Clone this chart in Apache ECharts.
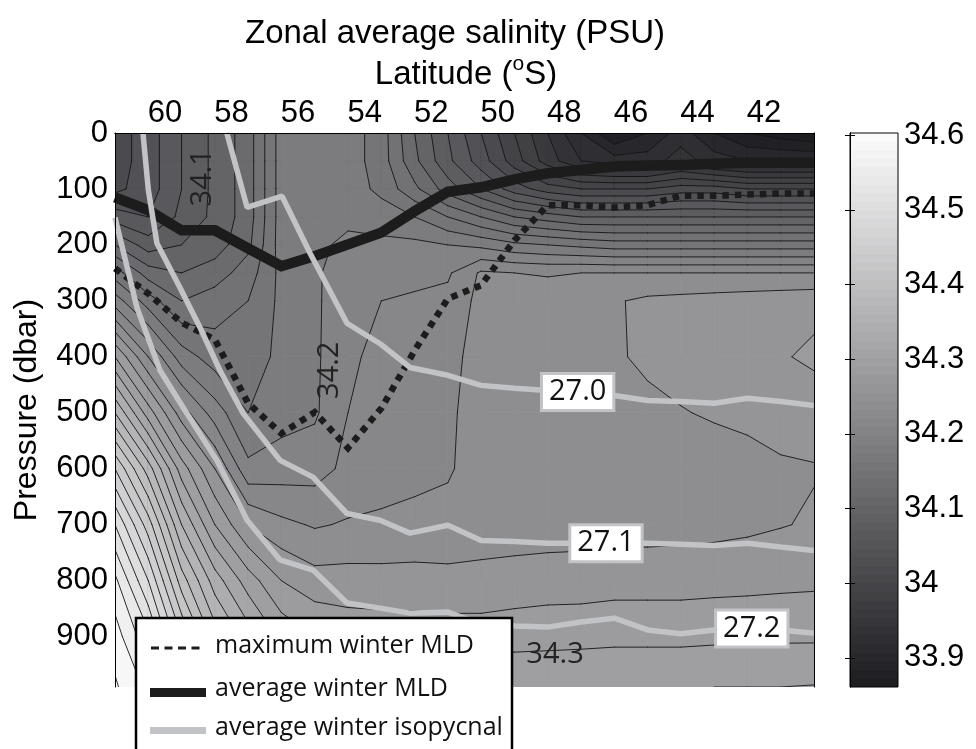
<!DOCTYPE html>
<html>
<head>
<meta charset="utf-8">
<script src="https://cdn.jsdelivr.net/npm/echarts@6/dist/echarts.min.js"></script>
<style>
  html, body { margin: 0; padding: 0; background: #fff; }
  #chart { width: 976px; height: 749px; }
</style>
</head>
<body>
<div id="chart"></div>
<script>
// ---- Section grid -------------------------------------------------------
const latitudes = [61.5, 60.5, 59.5, 58.5, 57.5, 56.5, 55.5, 54.5, 53.5, 52.5, 51.5,
                   50.5, 49.5, 48.5, 47.5, 46.5, 45.5, 44.5, 43.5, 42.5, 41.5, 40.5];
const pressures = [0, 50, 100, 150, 200, 250, 300, 400, 500, 600, 700, 800, 900, 990];

// Zonal mean salinity (PSU): one column per latitude, surface to bottom
const salinity = [
  [34.03, 34.03, 34.035, 34.07, 34.12, 34.17, 34.21, 34.30, 34.38, 34.46, 34.52, 34.565, 34.59, 34.603],
  [34.05, 34.05, 34.05, 34.06, 34.09, 34.13, 34.17, 34.24, 34.31, 34.39, 34.45, 34.50, 34.545, 34.575],
  [34.08, 34.08, 34.08, 34.085, 34.10, 34.12, 34.14, 34.19, 34.25, 34.31, 34.36, 34.41, 34.46, 34.50],
  [34.105, 34.105, 34.105, 34.105, 34.11, 34.13, 34.15, 34.17, 34.21, 34.26, 34.30, 34.35, 34.39, 34.43],
  [34.13, 34.13, 34.13, 34.13, 34.135, 34.15, 34.16, 34.17, 34.18, 34.205, 34.26, 34.31, 34.35, 34.38],
  [34.19, 34.19, 34.19, 34.19, 34.19, 34.186, 34.185, 34.185, 34.192, 34.21, 34.245, 34.28, 34.315, 34.345],
  [34.195, 34.195, 34.195, 34.195, 34.195, 34.196, 34.196, 34.196, 34.197, 34.212, 34.238, 34.268, 34.30, 34.328],
  [34.19, 34.19, 34.19, 34.195, 34.205, 34.214, 34.215, 34.218, 34.22, 34.225, 34.242, 34.268, 34.293, 34.322],
  [34.17, 34.17, 34.175, 34.19, 34.205, 34.215, 34.22, 34.223, 34.226, 34.23, 34.244, 34.267, 34.292, 34.319],
  [34.12, 34.125, 34.145, 34.18, 34.205, 34.216, 34.222, 34.227, 34.231, 34.234, 34.246, 34.267, 34.291, 34.318],
  [34.08, 34.085, 34.11, 34.16, 34.20, 34.217, 34.226, 34.232, 34.236, 34.238, 34.246, 34.266, 34.29, 34.317],
  [34.04, 34.05, 34.08, 34.14, 34.195, 34.243, 34.246, 34.25, 34.25, 34.248, 34.25, 34.266, 34.29, 34.317],
  [34.00, 34.01, 34.05, 34.12, 34.185, 34.24, 34.25, 34.252, 34.25, 34.248, 34.25, 34.268, 34.292, 34.318],
  [33.96, 33.97, 34.03, 34.11, 34.18, 34.238, 34.252, 34.254, 34.252, 34.249, 34.25, 34.27, 34.293, 34.318],
  [33.92, 33.94, 34.02, 34.10, 34.175, 34.24, 34.255, 34.256, 34.253, 34.249, 34.251, 34.27, 34.294, 34.318],
  [33.88, 33.93, 34.02, 34.10, 34.17, 34.24, 34.258, 34.258, 34.254, 34.248, 34.252, 34.272, 34.295, 34.319],
  [33.90, 33.93, 34.02, 34.10, 34.17, 34.24, 34.264, 34.263, 34.256, 34.248, 34.252, 34.272, 34.295, 34.319],
  [33.93, 33.95, 34.03, 34.10, 34.17, 34.24, 34.266, 34.267, 34.259, 34.25, 34.253, 34.272, 34.295, 34.319],
  [33.90, 33.93, 34.03, 34.10, 34.17, 34.24, 34.268, 34.27, 34.262, 34.251, 34.254, 34.273, 34.296, 34.32],
  [33.88, 33.92, 34.02, 34.10, 34.17, 34.24, 34.27, 34.274, 34.264, 34.254, 34.256, 34.274, 34.296, 34.32],
  [33.87, 33.92, 34.02, 34.10, 34.17, 34.24, 34.272, 34.278, 34.266, 34.258, 34.259, 34.275, 34.297, 34.32],
  [33.861, 33.92, 34.02, 34.10, 34.17, 34.24, 34.274, 34.284, 34.268, 34.259, 34.262, 34.276, 34.297, 34.321]
];

// Winter mixed-layer depth (dbar) at the grid latitudes
const avgMldDepth = [115, 138, 174, 174, 206, 238, 220, 199, 178, 140, 105, 97, 83, 72, 66, 60, 58, 57, 55, 53, 53, 53];
const maxMldDepth = [242, 287, 339, 369, 483, 537, 499, 563, 492, 389, 296, 272, 192, 129, 129, 133, 129, 112, 112, 110, 108, 108];

// Average winter isopycnals (latitude, pressure)
const iso270Lat = [58.14, 57.53, 56.48, 55.64, 54.53, 53.5, 52.64, 51.5, 50.5, 49.5, 48.5, 47.5, 46.5, 45.5, 44.5, 43.5, 42.5, 41.5, 40.5];
const iso270P   = [0, 133, 113, 215, 340, 378, 419, 433, 451, 456, 460, 463, 469, 478, 480, 483, 474, 480, 487];
const iso271Lat = [60.66, 60.5, 60.24, 59.55, 58.95, 58.35, 57.65, 56.54, 55.55, 54.53, 53.54, 52.64, 51.5, 50.5, 49.5, 48.5, 47.5, 46.5, 45.5, 44.5, 43.5, 42.5, 41.5, 40.5];
const iso271P   = [0, 101, 197, 276, 347, 424, 501, 585, 615, 680, 692, 715, 701, 728, 730, 733, 733, 733, 733, 735, 737, 733, 740, 746];
const iso272Lat = [61.5, 60.84, 60.15, 59.49, 58.44, 57.53, 56.54, 55.55, 54.53, 53.54, 52.64, 51.5, 50.5, 49.5, 48.5, 47.5, 46.5, 45.5, 44.5, 43.5, 42.5, 41.5, 40.5];
const iso272P   = [151, 312, 424, 487, 585, 692, 763, 781, 840, 849, 858, 856, 878, 881, 883, 874, 867, 888, 895, 888, 885, 888, 894];

// Isopycnal labels: density value and the latitude where the label sits
const isoLabelText = ['27.0', '27.1', '27.2'];
const isoLabelLat  = [47.6, 46.75, 42.37];

// Inline salinity contour labels
const contourLabelText = ['34.1', '34.2', '34.3'];
const contourLabelLat  = [58.85, 55.04, 48.28];
const contourLabelP    = [80, 424, 933];
const contourLabelVertical = [true, true, false];

// Tick labels
const latTicks = [60, 58, 56, 54, 52, 50, 48, 46, 44, 42];
const pressureTicks = [0, 100, 200, 300, 400, 500, 600, 700, 800, 900];
const colorTicks = [33.9, 34.0, 34.1, 34.2, 34.3, 34.4, 34.5, 34.6];

// ---- Contour levels and grey colour map --------------------------------
const LEVEL_STEP = 0.02;
const levels = [];
for (let k = 0; ; k++) {
  const v = +(33.86 + LEVEL_STEP * k).toFixed(2);
  if (v > 34.6 + 1e-9) break;
  levels.push(v);
}
const allValues = salinity.flat();
const cmin = Math.min(...allValues);
const cmax = Math.max(...allValues);
const CMAP_N = 64;
const DARK = [30, 30, 34];
const LIGHT = [250, 250, 251];
function cmapColorByIndex(idx) {
  const g = idx / (CMAP_N - 1);
  const c = DARK.map((d, i) => Math.round(d + g * (LIGHT[i] - d)));
  return 'rgb(' + c.join(',') + ')';
}
function cmapColor(v) {
  const t = (v - cmin) / (cmax - cmin);
  const idx = Math.max(0, Math.min(CMAP_N - 1, Math.floor(t * CMAP_N)));
  return cmapColorByIndex(idx);
}

const GREY_LINE = '#c2c3c7';
const BLACK_LINE = '#1c1c1c';
const AXIS_FONT = 'Liberation Sans, Arial, sans-serif';
const LABEL_FONT = 'Open Sans, Noto Sans, sans-serif';

// ---- Helpers -------------------------------------------------------------
function cellCorners(j, i) {
  return [[j, i], [j + 1, i], [j + 1, i + 1], [j, i + 1]].map(([jj, ii]) => ({
    lat: latitudes[jj], p: pressures[ii], v: salinity[jj][ii]
  }));
}
function crossing(A, B, L) {
  const t = (L - A.v) / (B.v - A.v);
  return [A.lat + t * (B.lat - A.lat), A.p + t * (B.p - A.p)];
}
function regionAbove(pts, L) {
  const out = [];
  for (let m = 0; m < 4; m++) {
    const A = pts[m], B = pts[(m + 1) % 4];
    const ain = A.v >= L, bin = B.v >= L;
    if (ain) out.push([A.lat, A.p]);
    if (ain !== bin) out.push(crossing(A, B, L));
  }
  return out;
}
function lerpLine(lats, ps, lat) {
  for (let k = 0; k < lats.length - 1; k++) {
    const a = lats[k], b = lats[k + 1];
    if ((lat - a) * (lat - b) <= 0) {
      const t = (lat - a) / (b - a);
      return ps[k] + t * (ps[k + 1] - ps[k]);
    }
  }
  return ps[ps.length - 1];
}
function zip(a, b) { return a.map((x, k) => [x, b[k]]); }

const cells = [];
for (let j = 0; j < latitudes.length - 1; j++) {
  for (let i = 0; i < pressures.length - 1; i++) {
    cells.push([latitudes[j], pressures[i], j, i]);
  }
}

// Filled bands: each cell painted from its lowest band upward
function renderFill(params, api) {
  const j = api.value(2), i = api.value(3);
  const pts = cellCorners(j, i);
  const vs = pts.map(p => p.v);
  const vmin = Math.min(...vs), vmax = Math.max(...vs);
  let k0 = 0;
  for (let k = 0; k < levels.length; k++) if (levels[k] <= vmin) k0 = k;
  const children = [];
  const toPx = poly => poly.map(q => api.coord(q));
  const base = cmapColor(levels[k0]);
  children.push({
    type: 'polygon',
    shape: { points: toPx(pts.map(p => [p.lat, p.p])) },
    style: { fill: base, stroke: base, lineWidth: 0.8, lineJoin: 'round' }
  });
  for (let k = k0 + 1; k < levels.length && levels[k] <= vmax; k++) {
    const poly = regionAbove(pts, levels[k]);
    if (poly.length < 3) continue;
    const c = cmapColor(levels[k]);
    children.push({
      type: 'polygon',
      shape: { points: toPx(poly) },
      style: { fill: c, stroke: c, lineWidth: 0.8, lineJoin: 'round' }
    });
  }
  return { type: 'group', children };
}

// Contour lines by marching squares
function renderLines(params, api) {
  const j = api.value(2), i = api.value(3);
  const pts = cellCorners(j, i);
  const vs = pts.map(p => p.v);
  const vmin = Math.min(...vs), vmax = Math.max(...vs);
  let d = '';
  const seg = (a, b) => {
    const pa = api.coord(a), pb = api.coord(b);
    d += 'M' + pa[0].toFixed(2) + ' ' + pa[1].toFixed(2) + 'L' + pb[0].toFixed(2) + ' ' + pb[1].toFixed(2);
  };
  for (const L of levels) {
    if (L <= vmin || L > vmax) continue;
    const cross = [];
    for (let m = 0; m < 4; m++) {
      const A = pts[m], B = pts[(m + 1) % 4];
      if ((A.v >= L) !== (B.v >= L)) cross.push({ edge: m, pt: crossing(A, B, L) });
    }
    if (cross.length === 2) {
      seg(cross[0].pt, cross[1].pt);
    } else if (cross.length === 4) {
      const centre = (vs[0] + vs[1] + vs[2] + vs[3]) / 4;
      const tlIn = vs[0] >= L;
      const isolateTL = (centre >= L) !== tlIn;
      if (isolateTL) { seg(cross[3].pt, cross[0].pt); seg(cross[1].pt, cross[2].pt); }
      else { seg(cross[0].pt, cross[1].pt); seg(cross[2].pt, cross[3].pt); }
    }
  }
  if (!d) return null;
  return {
    type: 'path',
    shape: { pathData: d },
    style: { fill: null, stroke: '#141414', lineWidth: 0.9, lineCap: 'round' }
  };
}

// "Latitude (°S)" with a raised "o", laid out from measured text widths
const measureCtx = document.createElement('canvas').getContext('2d');
function textWidth(txt, size) {
  measureCtx.font = size + 'px ' + AXIS_FONT;
  return measureCtx.measureText(txt).width;
}
const XLABEL_SIZE = 33, SUP_SIZE = 21, XLABEL_CX = 466, XLABEL_CY = 75;
const xlParts = ['Latitude (', 'o', 'S)'];
const xlWidths = [textWidth(xlParts[0], XLABEL_SIZE), textWidth(xlParts[1], SUP_SIZE), textWidth(xlParts[2], XLABEL_SIZE)];
const xlStart = XLABEL_CX - (xlWidths[0] + xlWidths[1] + xlWidths[2]) / 2;

// ---- Chart ---------------------------------------------------------------
const chart = echarts.init(document.getElementById('chart'), null, { renderer: 'canvas' });

const colorbarStops = [];
for (let idx = 0; idx < CMAP_N; idx++) {
  const c = cmapColorByIndex(idx);
  colorbarStops.push({ offset: idx / CMAP_N, color: c });
  colorbarStops.push({ offset: (idx + 1) / CMAP_N, color: c });
}

const legendZ = 100;
const option = {
  animation: false,
  backgroundColor: '#fff',
  textStyle: { fontFamily: AXIS_FONT },
  title: {
    text: 'Zonal average salinity (PSU)',
    left: 450, top: 12, textAlign: 'center',
    textStyle: { fontFamily: AXIS_FONT, fontWeight: 'normal', fontSize: 33, color: '#000' }
  },
  grid: [
    { left: 115, top: 133, width: 699, height: 554 },
    { left: 850, top: 133, width: 48, height: 554 }
  ],
  xAxis: [
    {
      gridIndex: 0, type: 'value', min: 40.5, max: 61.5, inverse: true, position: 'top', z: 10,
      axisLine: { show: true, lineStyle: { color: '#000', width: 1 } },
      axisTick: { show: false },
      splitLine: { show: false },
      axisLabel: { customValues: latTicks, fontSize: 31, color: '#000', margin: 4, fontFamily: AXIS_FONT }
    },
    { gridIndex: 1, type: 'value', min: 0, max: 1, show: false },
    {
      gridIndex: 0, type: 'value', min: 40.5, max: 61.5, inverse: true, position: 'bottom', z: 10,
      axisLine: { show: true, lineStyle: { color: '#000', width: 1 } },
      axisTick: { show: false }, axisLabel: { show: false }, splitLine: { show: false }
    }
  ],
  yAxis: [
    {
      gridIndex: 0, type: 'value', min: 0, max: 990, interval: 100, inverse: true, position: 'left', z: 10,
      name: 'Pressure (dbar)', nameLocation: 'middle', nameGap: 72,
      nameTextStyle: { fontFamily: AXIS_FONT, fontSize: 32, color: '#000' },
      axisLine: { show: true, lineStyle: { color: '#000', width: 1 } },
      axisTick: { show: false },
      splitLine: { show: false },
      axisLabel: { customValues: pressureTicks, fontSize: 31, color: '#000', margin: 7, fontFamily: AXIS_FONT }
    },
    {
      gridIndex: 1, type: 'value', min: cmin, max: cmax, position: 'right', z: 10,
      axisLine: { show: true, lineStyle: { color: '#000', width: 1 } },
      axisTick: { show: true, inside: true, length: 5, customValues: colorTicks, lineStyle: { color: '#000' } },
      splitLine: { show: false },
      axisLabel: {
        customValues: colorTicks, fontSize: 31, color: '#000', margin: 6, fontFamily: AXIS_FONT,
        formatter: v => String(Math.round(v * 10) / 10)
      }
    },
    {
      gridIndex: 1, type: 'value', min: cmin, max: cmax, position: 'left', z: 10,
      axisLine: { show: true, lineStyle: { color: '#000', width: 1 } },
      axisTick: { show: true, inside: true, length: 5, customValues: colorTicks, lineStyle: { color: '#000' } },
      splitLine: { show: false },
      axisLabel: { show: false }
    },
    {
      gridIndex: 0, type: 'value', min: 0, max: 990, inverse: true, position: 'right', z: 10,
      axisLine: { show: true, lineStyle: { color: '#000', width: 1 } },
      axisTick: { show: false }, axisLabel: { show: false }, splitLine: { show: false }
    }
  ],
  series: [
    {
      name: 'salinity bands', type: 'custom', xAxisIndex: 0, yAxisIndex: 0, z: 1, clip: true,
      renderItem: renderFill, data: cells, silent: true
    },
    {
      name: 'salinity contours', type: 'custom', xAxisIndex: 0, yAxisIndex: 0, z: 2, clip: true,
      renderItem: renderLines, data: cells, silent: true
    },
    {
      name: 'contour labels', type: 'custom', xAxisIndex: 0, yAxisIndex: 0, z: 3, clip: true, silent: true,
      data: contourLabelText.map((t, k) => [contourLabelLat[k], contourLabelP[k], k]),
      renderItem: (params, api) => {
        const k = api.value(2);
        const pt = api.coord([api.value(0), api.value(1)]);
        return {
          type: 'text', x: pt[0], y: pt[1],
          rotation: contourLabelVertical[k] ? Math.PI / 2 : 0,
          style: {
            text: contourLabelText[k], fill: '#222', font: '29px ' + LABEL_FONT,
            align: 'center', verticalAlign: 'middle'
          }
        };
      }
    },
    {
      name: 'maximum winter MLD', type: 'line', xAxisIndex: 0, yAxisIndex: 0, z: 4,
      data: zip(latitudes, maxMldDepth), showSymbol: false, symbol: 'none', clip: true, silent: true,
      lineStyle: { color: BLACK_LINE, width: 6.5, type: [6.5, 6], cap: 'butt', join: 'miter' }
    },
    {
      name: 'average winter MLD', type: 'line', xAxisIndex: 0, yAxisIndex: 0, z: 5,
      data: zip(latitudes, avgMldDepth), showSymbol: false, symbol: 'none', clip: true, silent: true,
      lineStyle: { color: BLACK_LINE, width: 10.5, join: 'miter' }
    },
    {
      name: 'isopycnal 27.0', type: 'line', xAxisIndex: 0, yAxisIndex: 0, z: 6,
      data: zip(iso270Lat, iso270P), showSymbol: false, symbol: 'none', clip: true, silent: true,
      lineStyle: { color: GREY_LINE, width: 5.5 }
    },
    {
      name: 'isopycnal 27.1', type: 'line', xAxisIndex: 0, yAxisIndex: 0, z: 6,
      data: zip(iso271Lat, iso271P), showSymbol: false, symbol: 'none', clip: true, silent: true,
      lineStyle: { color: GREY_LINE, width: 5.5 }
    },
    {
      name: 'isopycnal 27.2', type: 'line', xAxisIndex: 0, yAxisIndex: 0, z: 6,
      data: zip(iso272Lat, iso272P), showSymbol: false, symbol: 'none', clip: true, silent: true,
      lineStyle: { color: GREY_LINE, width: 5.5 }
    },
    {
      name: 'isopycnal labels', type: 'custom', xAxisIndex: 0, yAxisIndex: 0, z: 7, silent: true,
      data: isoLabelText.map((t, k) => {
        const lines = [[iso270Lat, iso270P], [iso271Lat, iso271P], [iso272Lat, iso272P]][k];
        return [isoLabelLat[k], lerpLine(lines[0], lines[1], isoLabelLat[k]), k];
      }),
      renderItem: (params, api) => {
        const k = api.value(2);
        const pt = api.coord([api.value(0), api.value(1)]);
        return {
          type: 'text', x: pt[0], y: pt[1],
          style: {
            text: isoLabelText[k], fill: '#111', font: '29px ' + LABEL_FONT,
            align: 'center', verticalAlign: 'middle',
            backgroundColor: '#fff', borderColor: GREY_LINE, borderWidth: 3,
            padding: [1, 6, 1, 6], lineHeight: 32
          }
        };
      }
    },
    {
      name: 'colour scale', type: 'custom', xAxisIndex: 1, yAxisIndex: 1, z: 2, silent: true,
      data: [[0, cmin]],
      renderItem: (params, api) => {
        const a = api.coord([0, cmax]);
        const b = api.coord([1, cmin]);
        return {
          type: 'rect',
          shape: { x: a[0], y: a[1], width: b[0] - a[0], height: b[1] - a[1] },
          style: {
            fill: new echarts.graphic.LinearGradient(0, 1, 0, 0, colorbarStops),
            stroke: '#000', lineWidth: 1
          }
        };
      }
    }
  ],
  graphic: {
    elements: [
      // x-axis title
      { type: 'text', x: xlStart, y: XLABEL_CY,
        style: { text: xlParts[0], font: XLABEL_SIZE + 'px ' + AXIS_FONT, fill: '#000', verticalAlign: 'middle' } },
      { type: 'text', x: xlStart + xlWidths[0], y: XLABEL_CY - 11,
        style: { text: xlParts[1], font: SUP_SIZE + 'px ' + AXIS_FONT, fill: '#000', verticalAlign: 'middle' } },
      { type: 'text', x: xlStart + xlWidths[0] + xlWidths[1], y: XLABEL_CY,
        style: { text: xlParts[2], font: XLABEL_SIZE + 'px ' + AXIS_FONT, fill: '#000', verticalAlign: 'middle' } },
      // legend
      { type: 'rect', z: legendZ, shape: { x: 136, y: 618, width: 376, height: 150 },
        style: { fill: '#fff', stroke: '#000', lineWidth: 2.5 } },
      { type: 'line', z: legendZ + 1, shape: { x1: 151, y1: 648, x2: 205, y2: 648 },
        style: { stroke: BLACK_LINE, lineWidth: 3, lineDash: [8, 5.5] } },
      { type: 'rect', z: legendZ + 1, shape: { x: 150, y: 688, width: 56, height: 9 }, style: { fill: BLACK_LINE } },
      { type: 'rect', z: legendZ + 1, shape: { x: 150, y: 727, width: 56, height: 7 }, style: { fill: GREY_LINE } },
      { type: 'text', z: legendZ + 1, x: 215, y: 646,
        style: { text: 'maximum winter MLD', font: '25px ' + LABEL_FONT, fill: '#111', verticalAlign: 'middle' } },
      { type: 'text', z: legendZ + 1, x: 215, y: 689,
        style: { text: 'average winter MLD', font: '25px ' + LABEL_FONT, fill: '#111', verticalAlign: 'middle' } },
      { type: 'text', z: legendZ + 1, x: 215, y: 728,
        style: { text: 'average winter isopycnal', font: '25px ' + LABEL_FONT, fill: '#111', verticalAlign: 'middle' } }
    ]
  }
};

chart.setOption(option);
</script>
</body>
</html>
